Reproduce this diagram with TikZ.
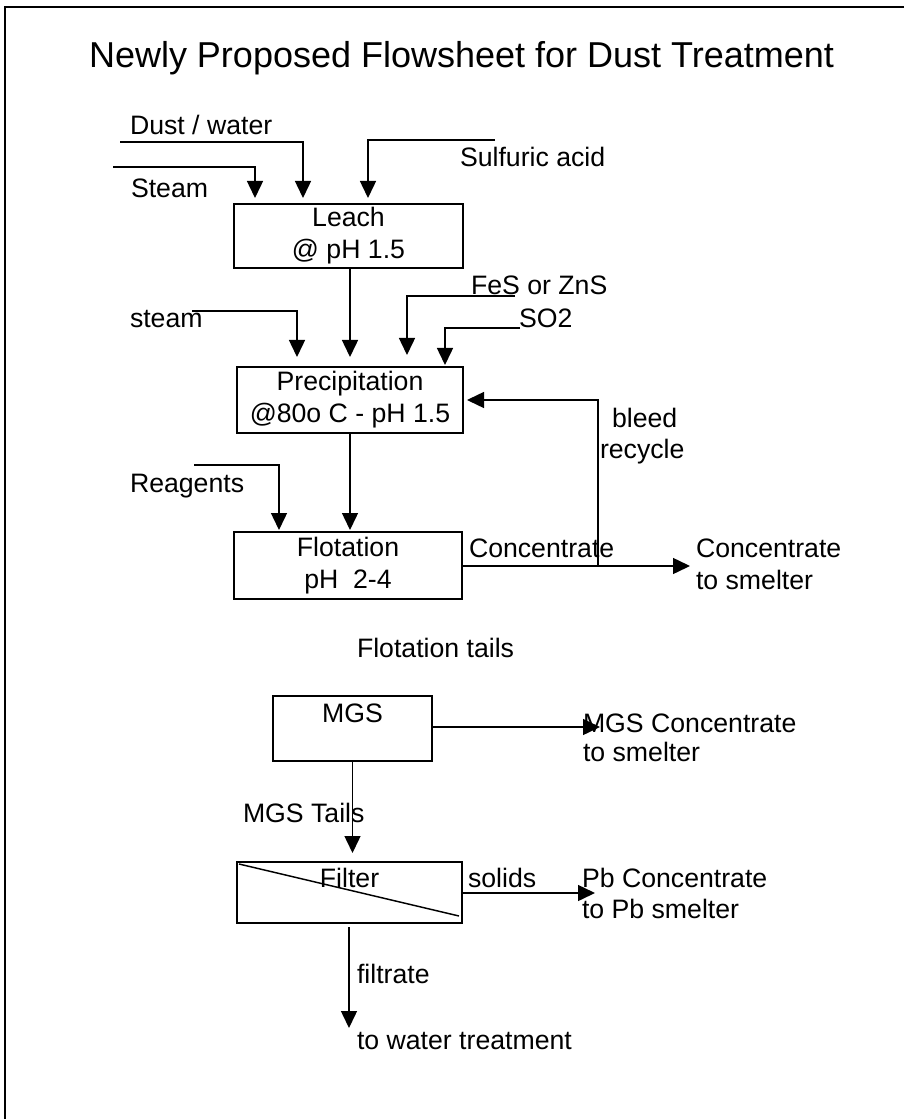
\documentclass[tikz,border=0pt]{standalone}
\usepackage{fontspec}
\setmainfont{Liberation Sans}
\usetikzlibrary{arrows.meta}
\begin{document}
\begin{tikzpicture}[x=0.75pt,y=-0.75pt,
  every node/.style={font=\fontsize{20}{24}\selectfont, inner sep=0pt, outer sep=0pt},
  box/.style={draw, line width=1.4pt, align=center},
  txt/.style={anchor=base west},
  ctxt/.style={anchor=base},
  flow/.style={line width=1.1pt, -{Triangle[width=12pt,length=12.75pt]}},
  thin/.style={line width=1.1pt},
]
\useasboundingbox (0,0) rectangle (904,1119);
\draw[line width=2.2pt] (904,7) -- (5,7) -- (5,1119);

\node[ctxt, font=\fontsize{27}{32}\selectfont] (title) at (461.5,68) {Newly Proposed Flowsheet for Dust Treatment};

% process boxes
\node[box, minimum width=171.75pt, minimum height=48pt] (leach) at (348.5,236) {Leach\\@ pH 1.5};
\node[box, minimum width=169.5pt, minimum height=49.5pt] (precip) at (350,400) {Precipitation\\@80o C - pH 1.5};
\node[box, minimum width=171pt, minimum height=50.25pt] (flot) at (348,565.5) {Flotation\\pH\ \ 2-4};
\node[box, minimum width=119.25pt, minimum height=48.75pt] (mgs) at (352.5,728.5) {};
\node[ctxt] (mgsL) at (352.5,722) {MGS};
\node[box, minimum width=168.75pt, minimum height=45.75pt] (filter) at (349.5,892.5) {};
\draw[thin] ([shift={(2,2)}]filter.north west) -- ([shift={(-3,-7)}]filter.south east);
\node[ctxt] (filterL) at (349.5,887) {Filter};

% feeds to leach
\coordinate (steamA) at (113,167);
\coordinate (steamB) at (255,167);
\coordinate (dustA) at (120,142);
\coordinate (dustB) at (303,142);
\coordinate (acidA) at (495,140);
\coordinate (acidB) at (368,140);
\draw[flow, shorten >=4.5pt] (steamA) -- (steamB) -- (steamB |- leach.north);
\draw[flow, shorten >=4.5pt] (dustA) -- (dustB) -- (dustB |- leach.north);
\draw[flow, shorten >=4.5pt] (acidA) -- (acidB) -- (acidB |- leach.north);
\node[txt] (dustL) at (130,135) {Dust / water};
\node[txt] (steamL) at (131,198) {Steam};
\node[txt] (acidL) at (460,167) {Sulfuric acid};

% leach to precipitation
\draw[flow, shorten >=7.5pt] (precip.north |- leach.south) -- (precip.north);

% feeds to precipitation
\coordinate (stmA) at (192,311);
\coordinate (stmB) at (297,311);
\coordinate (fesA) at (515,296);
\coordinate (fesB) at (407,296);
\coordinate (so2A) at (520,328);
\coordinate (so2B) at (445,328);
\draw[flow, shorten >=7.5pt] (stmA) -- (stmB) -- (stmB |- precip.north);
\draw[flow, shorten >=9pt] (fesA) -- (fesB) -- (fesB |- precip.north);
\draw[flow, shorten >=1.5pt] (so2A) -- (so2B) -- (so2B |- precip.north);
\node[txt] (stmL) at (130,328) {steam};
\node[txt] (fesL) at (471,295) {FeS or ZnS};
\node[txt] (so2L) at (519,328) {SO2};

% precipitation to flotation
\draw[flow, shorten >=1.5pt] (precip.south) -- (precip.south |- flot.north);
\coordinate (reaA) at (194,465);
\coordinate (reaB) at (279,465);
\draw[flow, shorten >=1.5pt] (reaA) -- (reaB) -- (reaB |- flot.north);
\node[txt] (reaL) at (130,492) {Reagents};

% concentrate and bleed recycle
\coordinate (concT) at (690,566);
\coordinate (bleedJ) at (598,566);
\coordinate (bleedT) at (598,400);
\draw[flow] (concT -| flot.east) -- (concT);
\draw[flow, shorten >=3pt] (bleedJ) -- (bleedT) -- (bleedT -| precip.east);
\node[txt] (concL) at (469,557) {Concentrate};
\node[txt] (concR1) at (696,557) {Concentrate};
\node[txt] (concR2) at (696,589) {to smelter};
\node[txt] (bleedL) at (612,427) {bleed};
\node[txt] (recL) at (600,458) {recycle};

\node[txt] (tailsL) at (357,657) {Flotation tails};

% MGS
\coordinate (mgsT) at (600,727);
\draw[flow] (mgsT -| mgs.east) -- (mgsT);
\node[txt] (mgsR1) at (583,732) {MGS Concentrate};
\node[txt] (mgsR2) at (583,761) {to smelter};
\draw[flow, shorten >=6.75pt] (mgs.south) -- (mgs.south |- filter.north);
\node[txt] (mgsTL) at (243,822) {MGS Tails};

% filter
\coordinate (solT) at (595,893);
\draw[flow] (solT -| filter.east) -- (solT);
\node[txt] (solL) at (468,887) {solids};
\node[txt] (pbR1) at (582,887) {Pb Concentrate};
\node[txt] (pbR2) at (582,918) {to Pb smelter};
\coordinate (filT) at (349,1028);
\draw[flow, shorten <=3pt] (filT |- filter.south) -- (filT);
\node[txt] (filL) at (357,983) {filtrate};
\node[txt] (watL) at (357,1049) {to water treatment};
\end{tikzpicture}
\end{document}
